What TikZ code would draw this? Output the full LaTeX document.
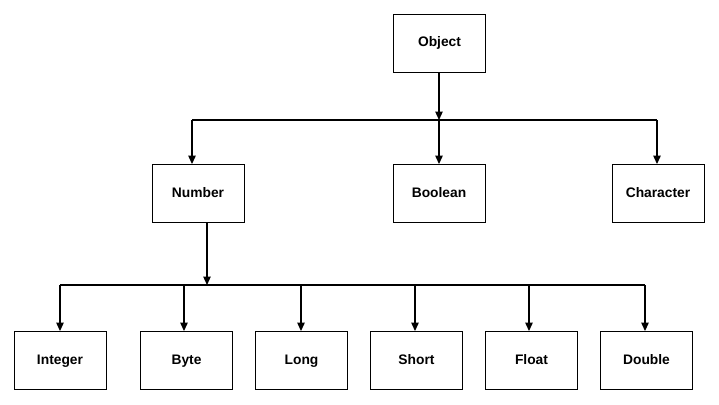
\documentclass[tikz,border=0pt]{standalone}
\usepackage{fontspec}
\setmainfont{Liberation Sans}
\usetikzlibrary{arrows.meta}

\tikzset{
  box/.style={draw, line width=0.9pt, minimum width=92pt, minimum height=58pt,
    inner sep=0pt, text height=10pt, text depth=3pt,
    font=\fontsize{13.8}{16}\selectfont\bfseries},
  arr/.style={-{Triangle[length=8.5pt,width=7.5pt]}, line width=1.2pt},
  bar/.style={line width=2.2pt}
}

\begin{document}
\begin{tikzpicture}[x=1pt,y=-1pt]
\useasboundingbox (0,0) rectangle (719,404);
\node[box] (obj) at (439.5,43) {Object};
\node[box] (num) at (198,193.5) {Number};
\node[box] (bool) at (439,193.5) {Boolean};
\node[box] (chr) at (658,193.5) {Character};
\node[box] (int) at (60,360.5) {Integer};
\node[box] (byte) at (186.5,360.5) {Byte};
\node[box] (long) at (301.5,360.5) {Long};
\node[box] (short) at (416.5,360.5) {Short};
\node[box] (flt) at (531.5,360.5) {Float};
\node[box] (dbl) at (646.5,360.5) {Double};
\coordinate (tl) at (192,120);
\coordinate (tm) at (439,120);
\coordinate (tr) at (657,120);
\coordinate (bl) at (60,285);
\coordinate (bm) at (207,285);
\coordinate (br) at (645,285);
\draw[bar] (tl) -- (tr);
\draw[arr] (tm |- obj.south) -- (tm);
\draw[arr] (tl) -- (tl |- num.north);
\draw[arr] (tm) -- (bool.north);
\draw[arr] (tr) -- (tr |- chr.north);
\draw[bar] (bl) -- (br);
\draw[arr] (bm |- num.south) -- (bm);
\foreach \n/\x in {int/60,byte/184,long/301,short/415,flt/529,dbl/645}{
  \coordinate (d\n) at (\x,285);
  \draw[arr] (d\n) -- (d\n |- \n.north);
}
\end{tikzpicture}
\end{document}
